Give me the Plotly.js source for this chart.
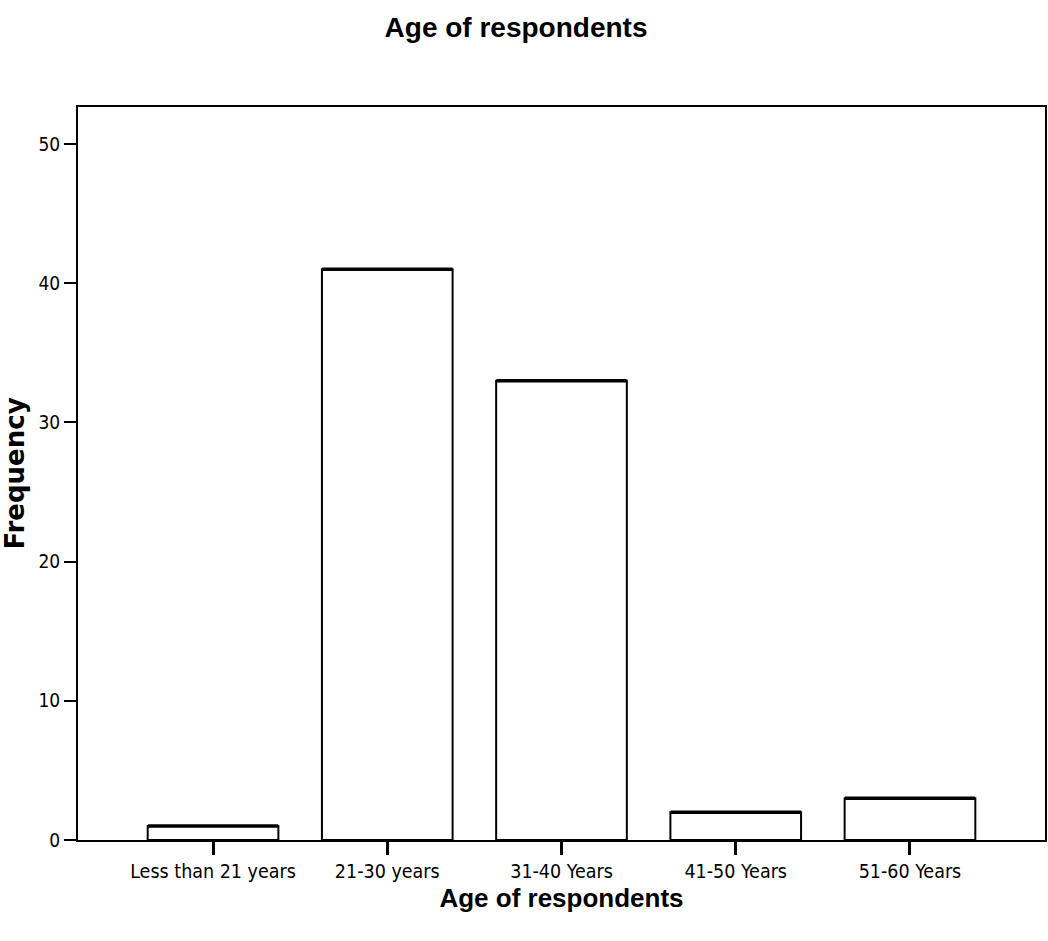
<!DOCTYPE html>
<html>
<head>
<meta charset="utf-8">
<script src="https://cdn.plot.ly/plotly-3.0.1.min.js"></script>
<style>html,body{margin:0;padding:0;background:#fff;}#chart{width:1048px;height:941px;}</style>
</head>
<body>
<div id="chart"></div>
<script>
const categories = ["Less than 21 years", "21-30 years", "31-40 Years", "41-50 Years", "51-60 Years"];
const frequencies = [1, 41, 33, 2, 3];
const yTickValues = [0, 10, 20, 30, 40, 50];

const narrow = '"DejaVu Sans Condensed", "Liberation Sans Narrow", Arial, sans-serif';
const bold = 'Arial, "Liberation Sans", sans-serif';
const wideBold = '"DejaVu Sans", Arial, sans-serif';

const bars = {
  type: 'bar',
  x: categories,
  y: frequencies,
  width: 0.75,
  marker: {color: '#ffffff', line: {color: '#000000', width: 2}},
  hoverinfo: 'x+y',
  showlegend: false
};
const tops = {
  type: 'scatter',
  mode: 'markers',
  x: categories,
  y: frequencies,
  marker: {symbol: 'line-ew', size: 93, line: {color: '#000000', width: 3.5}},
  hoverinfo: 'skip',
  showlegend: false,
  cliponaxis: false
};

const layout = {
  width: 1048,
  height: 941,
  margin: {l: 78, r: 3, t: 107, b: 101},
  paper_bgcolor: '#ffffff',
  plot_bgcolor: '#ffffff',
  title: {text: '<b>Age of respondents</b>', font: {family: bold, size: 28, color: '#000'}, x: 0.4924, xanchor: 'center', y: 0.971, yanchor: 'middle'},
  xaxis: {
    type: 'category',
    range: [-0.775, 4.775],
    showline: true, linecolor: '#000', linewidth: 2, mirror: true,
    ticks: 'outside', ticklen: 13, tickwidth: 3, tickcolor: '#000',
    tickfont: {family: narrow, size: 19.5, color: '#000'},
    showgrid: false, zeroline: false,
    title: {text: '<b>Age of respondents</b>', font: {family: bold, size: 26, color: '#000'}, standoff: 0}
  },
  yaxis: {
    range: [0, 52.66],
    tickvals: yTickValues,
    showline: true, linecolor: '#000', linewidth: 2, mirror: true,
    ticks: 'outside', ticklen: 12, tickwidth: 2, tickcolor: '#000',
    tickfont: {family: narrow, size: 19, color: '#000'},
    showgrid: false, zeroline: false,
    title: {text: '<b>Frequency</b>', font: {family: wideBold, size: 26, color: '#000'}, standoff: 15}
  },
  bargap: 0.25
};

Plotly.newPlot('chart', [bars, tops], layout, {displayModeBar: false, staticPlot: true});
</script>
</body>
</html>
